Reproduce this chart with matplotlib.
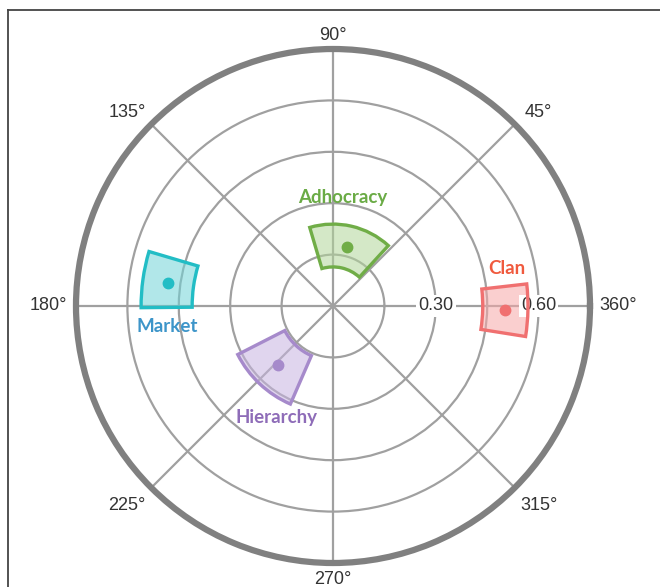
import numpy as np
import matplotlib.pyplot as plt
from matplotlib.lines import Line2D

plt.rcParams['font.family'] = ['Liberation Sans', 'DejaVu Sans']

# culture types: angular span (deg) and radial span of each sector
groups = ['Clan', 'Adhocracy', 'Market', 'Hierarchy']
theta_lo = [-9.0, 47.5, 163.5, 207.0]
theta_hi = [6.5, 106.5, 180.5, 246.5]
r_lo = [0.437, 0.114, 0.411, 0.158]
r_hi = [0.569, 0.239, 0.560, 0.312]

edge_colors = ['#f07070', '#70ad47', '#22bdc5', '#a68acb']
fill_colors = ['#f7a8a8', '#b2d69a', '#72d4d8', '#c7b4e0']
label_colors = ['#f05a3e', '#6aab45', '#3d95c9', '#8e6cb8']

# where the names sit (theta deg, r)
label_theta = [12.3, 84.8, 187.2, 243.0]
label_r = [0.519, 0.319, 0.488, 0.366]

r_ticks = [0.15, 0.30, 0.45, 0.60]
r_tick_labels = ['0.30', '0.60']
theta_ticks = [0, 45, 90, 135, 180, 225, 270, 315]
theta_tick_labels = ['360°', '45°', '90°', '135°', '180°', '225°', '270°', '315°']
# pixel offset of each angle label from the rim
theta_label_off = [(28, 0), (24, 12), (0, 14), (-24, 12),
                   (-28, 0), (-24, -18), (0, -16), (24, -18)]

fig = plt.figure(figsize=(6.6, 5.87), dpi=100)
ax = fig.add_axes([76 / 660, 24 / 587, 514 / 660, 514 / 587], projection='polar')

ax.set_ylim(0, 0.75)
ax.set_yticks(r_ticks)
ax.set_yticklabels([])
ax.set_xticks(np.deg2rad(theta_ticks))
ax.set_xticklabels([])
ax.grid(True, color='#a0a0a0', linewidth=1.6)
ax.spines['polar'].set_color('#808080')
ax.spines['polar'].set_linewidth(4.5)
ax.set_axisbelow(True)

for t, s, off in zip(theta_ticks, theta_tick_labels, theta_label_off):
    ax.annotate(s, (np.deg2rad(t), 0.75), xytext=off, textcoords='offset pixels',
                fontsize=13, color='#333333', ha='center', va='center',
                annotation_clip=False)

for i in range(len(groups)):
    t0 = np.deg2rad(theta_lo[i])
    t1 = np.deg2rad(theta_hi[i])
    ax.bar((t0 + t1) / 2, r_hi[i] - r_lo[i], width=t1 - t0, bottom=r_lo[i],
           color=fill_colors[i], alpha=0.55, edgecolor='none', zorder=2)
    ax.bar((t0 + t1) / 2, r_hi[i] - r_lo[i], width=t1 - t0, bottom=r_lo[i],
           facecolor='none', edgecolor=edge_colors[i], linewidth=2.4, zorder=4)
    ax.plot((t0 + t1) / 2, (r_lo[i] + r_hi[i]) / 2, 'o', color=edge_colors[i],
            markersize=7.5, zorder=5)
    ax.text(np.deg2rad(label_theta[i]), label_r[i], groups[i], color=label_colors[i],
            fontsize=13.5, fontweight='bold', family=['Lato', 'DejaVu Sans'],
            ha='center', va='center', zorder=6)

# radial value labels on the 0° ray
for r, s in zip([0.30, 0.60], r_tick_labels):
    ax.text(0, r, s, fontsize=13, color='#333333', ha='center', va='center', zorder=3,
            bbox=dict(facecolor='white', edgecolor='none', pad=1.5))

# frame lines along the top and left
fig.add_artist(Line2D([8 / 660, 8 / 660], [0, 1 - 10 / 587], color='#444444', linewidth=1.3))
fig.add_artist(Line2D([8 / 660, 1], [1 - 10 / 587, 1 - 10 / 587], color='#444444', linewidth=1.3))

fig.savefig('out.png', dpi=100, facecolor='white')
